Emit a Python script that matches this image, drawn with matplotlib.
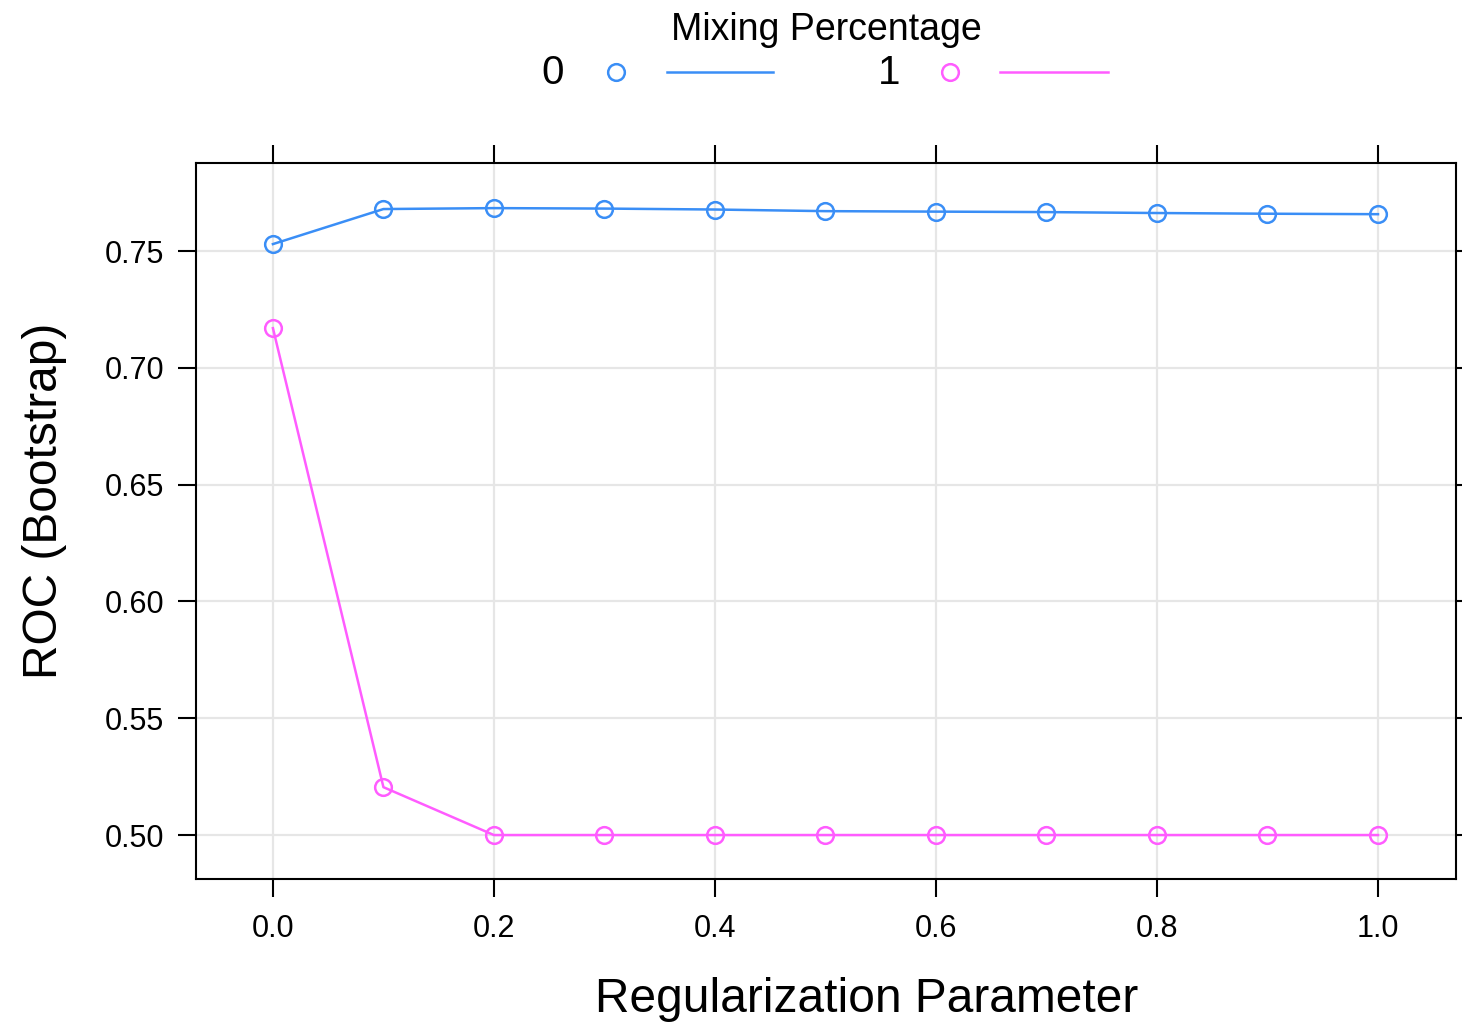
import matplotlib
matplotlib.use('Agg')
import matplotlib.pyplot as plt
from matplotlib.lines import Line2D

plt.rcParams['font.family'] = ['Liberation Sans', 'DejaVu Sans']

# tuning results: ROC for each regularization value, per mixing percentage
reg_param = [0.0, 0.1, 0.2, 0.3, 0.4, 0.5, 0.6, 0.7, 0.8, 0.9, 1.0]
roc_mix0 = [0.7530, 0.7680, 0.7684, 0.7682, 0.7678, 0.7671, 0.7669, 0.7667, 0.7663, 0.7660, 0.7658]
roc_mix1 = [0.7170, 0.5205, 0.5000, 0.5000, 0.5000, 0.5000, 0.5000, 0.5000, 0.5000, 0.5000, 0.5000]
mix_labels = ['0', '1']
colors = ['#3a8ef6', '#ff5cff']

x_ticks = [0.0, 0.2, 0.4, 0.6, 0.8, 1.0]
y_ticks = [0.50, 0.55, 0.60, 0.65, 0.70, 0.75]

fig = plt.figure(figsize=(14.62, 10.26), dpi=100)
ax = fig.add_axes([0.134, 0.1433, 0.8619, 0.6978])

for vals, c in zip([roc_mix0, roc_mix1], colors):
    ax.plot(reg_param, vals, color=c, lw=1.8, marker='o', ms=12,
            mfc='none', mec=c, mew=1.8, zorder=3)

ax.set_xlim(-0.0697, 1.0706)
ax.set_ylim(0.4812, 0.7877)
ax.set_xticks(x_ticks)
ax.set_xticklabels(['%.1f' % v for v in x_ticks])
ax.set_yticks(y_ticks)
ax.set_yticklabels(['%.2f' % v for v in y_ticks])
ax.grid(True, color='#e6e6e6', lw=1.6, zorder=0)

for s in ax.spines.values():
    s.set_linewidth(1.5)
ax.tick_params(axis='both', direction='out', length=13, width=1.5,
               labelsize=22, top=True, right=True)
ax.tick_params(axis='x', pad=12)
ax.tick_params(axis='y', pad=10)

ax.set_xlabel('Regularization Parameter', fontsize=34.5, va='center')
ax.set_ylabel('ROC (Bootstrap)', fontsize=34.5, va='center')
ax.xaxis.set_label_coords(0.532, -0.169)
ax.yaxis.set_label_coords(-0.1198, 0.528)

# key above the panel
fig.text(0.565, 0.971, 'Mixing Percentage', fontsize=27, ha='center', va='center')
key_y = 0.929
key = [(0.378, 0.421, 0.456, 0.529), (0.608, 0.650, 0.684, 0.758)]
for lab, c, (tx, mx, l0, l1) in zip(mix_labels, colors, key):
    fig.text(tx, key_y, lab, fontsize=29, ha='center', va='center')
    fig.add_artist(Line2D([mx], [key_y + 0.001], marker='o', ms=12, mfc='none',
                          mec=c, mew=1.8, transform=fig.transFigure))
    fig.add_artist(Line2D([l0, l1], [key_y + 0.001], color=c, lw=1.8,
                          transform=fig.transFigure))

fig.savefig('out.png', dpi=100)
